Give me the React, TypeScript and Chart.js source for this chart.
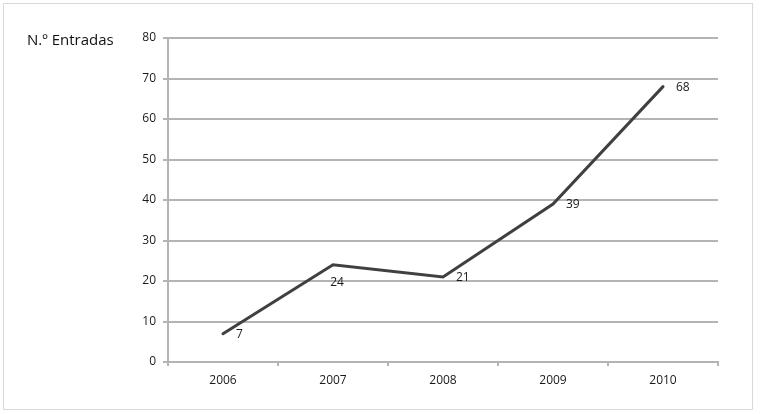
import { useEffect, useRef } from "react"
import { Chart, registerables, Plugin } from "chart.js"

Chart.register(...registerables)

const years = ["2006", "2007", "2008", "2009", "2010"]
const entradas = [7, 24, 21, 39, 68]
// where each value label sits relative to its point
const labelSides = ["right", "below", "right", "right", "right"]
const yTitle = "N.º Entradas"

const FONT = "'Open Sans', 'DejaVu Sans', sans-serif"
const GRID = "#b4b4b4"

const valueLabels: Plugin<"line"> = {
  id: "valueLabels",
  afterDatasetsDraw(chart) {
    const { ctx } = chart
    const meta = chart.getDatasetMeta(0)
    ctx.save()
    ctx.font = `12px ${FONT}`
    ctx.fillStyle = "#1a1a1a"
    ctx.textBaseline = "middle"
    meta.data.forEach((pt, i) => {
      const v = entradas[i]
      if (labelSides[i] === "below") {
        ctx.textAlign = "center"
        ctx.fillText(String(v), pt.x + 4, pt.y + 18)
      } else {
        ctx.textAlign = "left"
        ctx.fillText(String(v), pt.x + 13, pt.y + 1)
      }
    })
    ctx.restore()
  },
}

const axisTitle: Plugin<"line"> = {
  id: "axisTitle",
  afterDraw(chart) {
    const { ctx, chartArea } = chart
    ctx.save()
    ctx.font = `15px ${FONT}`
    ctx.fillStyle = "#111"
    ctx.textAlign = "left"
    ctx.textBaseline = "middle"
    ctx.fillText(yTitle, 27, chartArea.top + 3)
    ctx.restore()
  },
}

function LineChart() {
  const chartRef = useRef<HTMLCanvasElement>(null)
  const chartInstance = useRef<Chart | null>(null)

  useEffect(() => {
    if (!chartRef.current) return
    if (chartInstance.current) chartInstance.current.destroy()
    const ctx = chartRef.current.getContext("2d")
    if (!ctx) return

    chartInstance.current = new Chart(ctx, {
      type: "line",
      data: {
        labels: years,
        datasets: [
          {
            data: entradas,
            borderColor: "#404040",
            borderWidth: 3,
            borderCapStyle: "round",
            borderJoinStyle: "miter",
            pointRadius: 0,
            tension: 0,
            fill: false,
          },
        ],
      },
      options: {
        responsive: false,
        animation: false,
        layout: { padding: { top: 38, right: 42, left: 0, bottom: 0 } },
        scales: {
          x: {
            offset: true,
            afterFit: (scale) => {
              scale.height = 52
            },
            grid: {
              offset: true,
              drawOnChartArea: false,
              drawTicks: true,
              tickLength: 4,
              color: GRID,
              lineWidth: 2,
            },
            border: { color: GRID, width: 2 },
            ticks: { font: { family: FONT, size: 12 }, color: "#1a1a1a", padding: 7 },
          },
          y: {
            min: 0,
            max: 80,
            afterFit: (scale) => {
              scale.width = 168
            },
            grid: { color: GRID, lineWidth: 2, tickLength: 5 },
            border: { color: GRID, width: 2 },
            ticks: { stepSize: 10, font: { family: FONT, size: 12 }, color: "#1a1a1a", padding: 7 },
          },
        },
        plugins: {
          legend: { display: false },
          tooltip: { enabled: false },
        },
      },
      plugins: [valueLabels, axisTitle],
    })

    return () => {
      if (chartInstance.current) chartInstance.current.destroy()
    }
  }, [])

  return <canvas ref={chartRef} width={760} height={414} style={{ display: "block" }} />
}

export default function App() {
  useEffect(() => {
    document.body.style.margin = "0"
  }, [])
  return (
    <div style={{ position: "relative", width: 760, height: 414, background: "#fff" }}>
      <div
        style={{
          position: "absolute",
          left: 3,
          top: 3,
          width: 750,
          height: 407,
          border: "1px solid #d9d9d9",
          boxSizing: "border-box",
        }}
      />
      <div style={{ position: "absolute", left: 0, top: 0 }}>
        <LineChart />
      </div>
    </div>
  )
}
